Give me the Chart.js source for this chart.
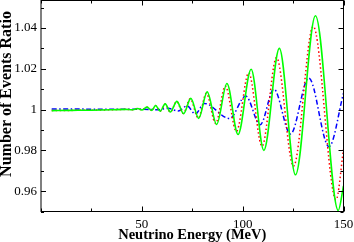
<!DOCTYPE html>
<html>
<head>
<meta charset="utf-8">
<script src="https://cdn.jsdelivr.net/npm/chart.js@4/dist/chart.umd.min.js"></script>
<style>
  html, body { margin: 0; padding: 0; background: #fff; }
</style>
</head>
<body>
<canvas id="ratioChart" width="354" height="242"></canvas>
<script>
// energies (MeV) and event ratios
const energyGreen = [5.3, 15, 25, 35, 42, 45, 48, 50, 52.5, 55, 56.8, 59.1, 61.6, 64.1, 67.4, 70.7, 74.3, 78.2, 82.4, 87.1, 92.2, 97.7, 104.2, 110.5, 118.2, 126.2, 136.1, 147.4, 150];
const ratioGreen = [0.9995, 0.9996, 0.9997, 0.9999, 1.0001, 0.9999, 1.0005, 0.9998, 1.0012, 0.9996, 1.002, 0.9992, 1.0028, 0.9988, 1.004, 0.998, 1.0055, 0.9957, 1.0087, 0.9927, 1.0128, 0.9878, 1.0198, 0.98, 1.030, 0.968, 1.046, 0.9505, 0.9625];

const energyRed = [5.3, 15, 25, 35, 42, 45, 48, 50, 52.5, 55, 56.8, 59.1, 61.6, 64.1, 67.3, 70.5, 74.0, 78.0, 82.0, 86.6, 91.4, 96.9, 103, 109.6, 116.8, 125.2, 135, 146.3, 150];
const ratioRed = [0.9995, 0.9996, 0.9997, 0.9999, 1.0001, 0.9999, 1.0005, 0.9998, 1.0012, 0.9996, 1.002, 0.9992, 1.0027, 0.9988, 1.0039, 0.9981, 1.0053, 0.9958, 1.008, 0.9932, 1.0115, 0.9893, 1.018, 0.982, 1.0255, 0.9722, 1.0408, 0.9558, 0.9804];

const energyBlue = [5.3, 30, 50, 58, 63, 68, 72.5, 76.5, 81, 93.5, 101.5, 108.7, 115.5, 123.7, 132.8, 142.8, 150];
const ratioBlue = [1.0003, 1.0002, 1.0002, 0.9999, 1.0006, 0.9993, 1.0018, 0.9978, 1.003, 0.9956, 1.0066, 0.9926, 1.01, 0.988, 1.0155, 0.9818, 1.008];

const xTicks = [50, 100, 150];
const xMinorTicks = [0, 25, 75, 125];
const yTicks = [0.96, 0.98, 1, 1.02, 1.04];
const yTickLabels = ['0.96', '0.98', '1', '1.02', '1.04'];
const yMinorTicks = [0.95, 0.97, 0.99, 1.01, 1.03, 1.05];

const toPoints = (xs, ys) => xs.map((x, i) => ({ x: x, y: ys[i] }));

// frame: box, inward ticks on all four sides, axis titles
const framePlugin = {
    id: 'frame',
    afterDraw(chart) {
        const ctx = chart.ctx;
        const a = chart.chartArea;
        const sx = chart.scales.x, sy = chart.scales.y;
        ctx.save();
        ctx.strokeStyle = '#000';
        ctx.lineWidth = 1;
        ctx.strokeRect(a.left, a.top, a.right - a.left, a.bottom - a.top);
        ctx.beginPath();
        const tickX = (v, len) => {
            const px = Math.round(sx.getPixelForValue(v)) + 0.5;
            ctx.moveTo(px, a.bottom); ctx.lineTo(px, a.bottom - len);
            ctx.moveTo(px, a.top); ctx.lineTo(px, a.top + len);
        };
        const tickY = (v, len) => {
            const py = Math.round(sy.getPixelForValue(v)) + 0.5;
            ctx.moveTo(a.left, py); ctx.lineTo(a.left + len, py);
            ctx.moveTo(a.right, py); ctx.lineTo(a.right - len, py);
        };
        xTicks.forEach(v => tickX(v, 5));
        xMinorTicks.forEach(v => tickX(v, 3));
        yTicks.forEach(v => tickY(v, 5));
        yMinorTicks.forEach(v => tickY(v, 3));
        ctx.stroke();

        ctx.fillStyle = '#000';
        ctx.textAlign = 'center';
        ctx.textBaseline = 'middle';
        ctx.font = 'bold 14.5px "Liberation Serif"';
        ctx.fillText('Neutrino Energy (MeV)', (a.left + a.right) / 2, 235);
        ctx.translate(7, 94);
        ctx.rotate(-Math.PI / 2);
        ctx.font = 'bold 16px "Liberation Serif"';
        ctx.fillText('Number of Events Ratio', 0, 0);
        ctx.restore();
    }
};

new Chart(document.getElementById('ratioChart'), {
    type: 'scatter',
    data: {
        datasets: [{
            data: toPoints(energyGreen, ratioGreen),
            borderColor: '#00ff00',
            borderWidth: 1.6,
            showLine: true,
            cubicInterpolationMode: 'monotone',
            pointRadius: 0
        }, {
            data: toPoints(energyRed, ratioRed),
            borderColor: '#ff0000',
            borderWidth: 1.5,
            borderDash: [1.5, 2.5],
            showLine: true,
            cubicInterpolationMode: 'monotone',
            pointRadius: 0
        }, {
            data: toPoints(energyBlue, ratioBlue),
            borderColor: '#0000ff',
            borderWidth: 1.5,
            borderDash: [5, 2.5, 1.5, 2.5],
            showLine: true,
            cubicInterpolationMode: 'monotone',
            pointRadius: 0
        }]
    },
    options: {
        responsive: false,
        animation: false,
        layout: { padding: { top: 0.5, right: 10.5, left: 0, bottom: 0 } },
        plugins: { legend: { display: false }, tooltip: { enabled: false } },
        scales: {
            x: {
                type: 'linear',
                min: 0,
                max: 150,
                afterBuildTicks: s => { s.ticks = xTicks.map(v => ({ value: v })); },
                afterFit: s => { s.height = 30.5; s.paddingLeft = 0; s.paddingRight = 0; },
                grid: { display: false, drawTicks: false },
                border: { display: false },
                ticks: {
                    color: '#000',
                    padding: 5,
                    maxRotation: 0,
                    font: { family: 'Liberation Serif', size: 13 }
                }
            },
            y: {
                type: 'linear',
                min: 0.95,
                max: 1.0535,
                afterBuildTicks: s => { s.ticks = yTicks.map(v => ({ value: v })); },
                afterFit: s => { s.width = 41; s.paddingTop = 0; s.paddingBottom = 0; },
                grid: { display: false, drawTicks: false },
                border: { display: false },
                ticks: {
                    color: '#000',
                    padding: 4,
                    font: { family: 'Liberation Serif', size: 13 },
                    callback: v => yTickLabels[yTicks.indexOf(v)]
                }
            }
        }
    },
    plugins: [framePlugin]
});
</script>
</body>
</html>
